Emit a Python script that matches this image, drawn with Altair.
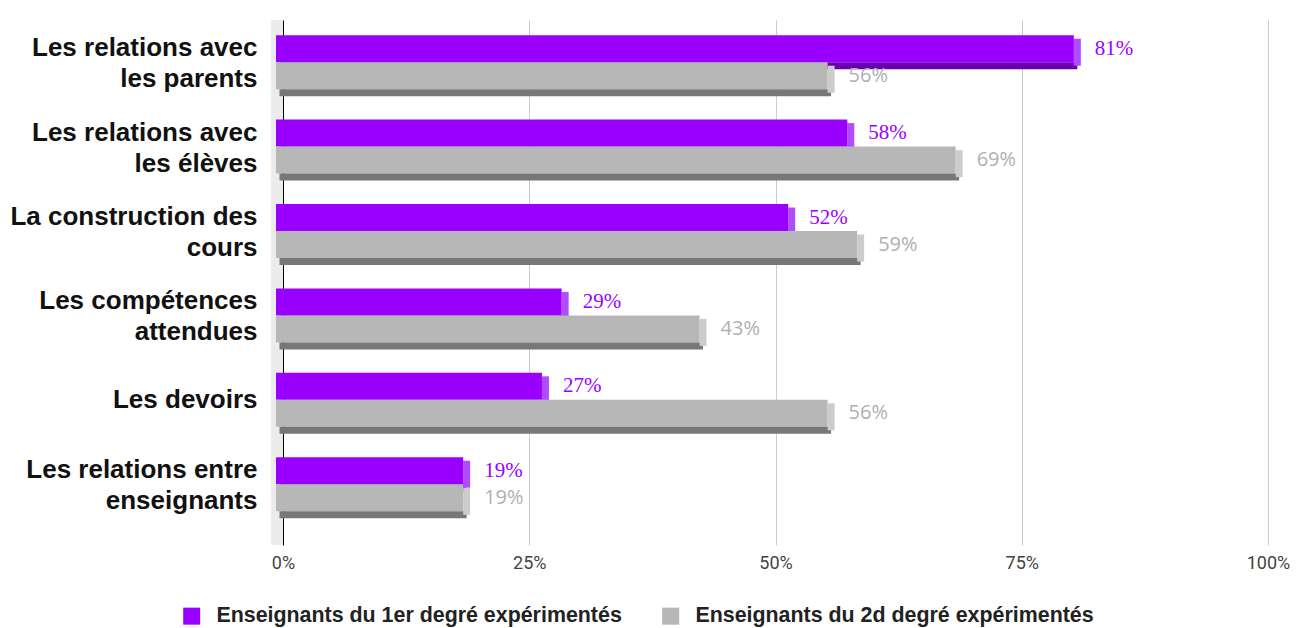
import altair as alt
import pandas as pd

categories = [
    "Les relations avec|les parents",
    "Les relations avec|les élèves",
    "La construction des|cours",
    "Les compétences|attendues",
    "Les devoirs",
    "Les relations entre|enseignants",
]
series = [
    "Enseignants du 1er degré expérimentés",
    "Enseignants du 2d degré expérimentés",
]
values_1er = [81, 58, 52, 29, 27, 19]
values_2d = [56, 69, 59, 43, 56, 19]
x_ticks = [0, 25, 50, 75, 100]

rows = []
for c, a, b in zip(categories, values_1er, values_2d):
    rows.append({"category": c, "series": series[0], "value": a})
    rows.append({"category": c, "series": series[1], "value": b})
df = pd.DataFrame(rows)

PURPLE = "#9900ff"
PURPLE_SIDE = "#b04cff"
PURPLE_DARK = "#6a00b0"
GRAY = "#b7b7b7"
GRAY_SIDE = "#cccccc"
GRAY_DARK = "#777777"

Y = alt.Y(
    "category:N",
    sort=categories,
    title=None,
    scale=alt.Scale(paddingInner=0, paddingOuter=0.11, align=0),
    axis=alt.Axis(
        labelExpr="split(datum.label, '|')",
        labelFont="Liberation Sans",
        labelFontWeight="bold",
        labelFontSize=26,
        labelLineHeight=31,
        labelColor="#111111",
        labelPadding=26,
        labelLimit=0,
        labelOffset={
            "condition": {"test": "indexof(datum.value, '|') >= 0", "value": -14},
            "value": 0,
        },
        ticks=False,
        domain=True,
        domainColor="#000000",
        domainWidth=1,
        grid=False,
        minExtent=275,
        maxExtent=275,
    ),
)
X = alt.X(
    "value:Q",
    title=None,
    scale=alt.Scale(domain=[0, 100]),
    axis=alt.Axis(
        values=x_ticks,
        labelExpr="datum.value + '%'",
        labelFont="Roboto",
        labelFontSize=18,
        labelColor="#444444",
        labelPadding=9,
        labelFlush=False,
        domain=False,
        ticks=False,
        grid=True,
        gridColor="#cccccc",
        gridWidth=1,
    ),
)

base = alt.Chart(df)
p = base.transform_filter(alt.datum.series == series[0])
g = base.transform_filter(alt.datum.series == series[1])

wall = base.mark_rect(color="#ececec", xOffset=-12, x2Offset=-0.5).encode(
    x=alt.datum(0), x2=alt.datum(0)
)

color_enc = alt.Color(
    "series:N",
    scale=alt.Scale(domain=series, range=[PURPLE, GRAY]),
    legend=alt.Legend(
        title=None,
        orient="none",
        direction="horizontal",
        legendX=-102,
        legendY=585,
        symbolType="square",
        symbolSize=289,
        symbolStrokeWidth=0,
        symbolOpacity=1,
        labelFont="Liberation Sans",
        labelFontWeight="bold",
        labelFontSize=21.4,
        labelColor="#222222",
        labelOffset=14,
        columnPadding=38,
        labelLimit=0,
    ),
)

p_bottom = p.mark_bar(size=7, yOffset=3.5, xOffset=-3.5, x2Offset=-3.5, color=PURPLE_DARK).encode(
    y=Y, x=X, x2=alt.datum(0)
)
p_side = p.mark_bar(size=27, yOffset=-10, xOffset=-7, x2Offset=0, color=PURPLE_SIDE).encode(
    y=Y, x=X, x2="value:Q"
)
p_front = p.mark_bar(size=27, yOffset=-13.5, xOffset=-7, x2Offset=-7).encode(
    y=Y, x=X, x2=alt.datum(0), color=color_enc
)
g_front = g.mark_bar(size=27, yOffset=13.5, xOffset=-7, x2Offset=-7).encode(
    y=Y, x=X, x2=alt.datum(0), color=color_enc
)
g_bottom = g.mark_bar(size=7, yOffset=30.5, xOffset=-3.5, x2Offset=-3.5, color=GRAY_DARK).encode(
    y=Y, x=X, x2=alt.datum(0)
)
g_side = g.mark_bar(size=27, yOffset=17, xOffset=-7, x2Offset=0, color=GRAY_SIDE).encode(
    y=Y, x=X, x2="value:Q"
)

p_text = p.transform_calculate(lbl="datum.value + '%'").mark_text(
    align="left", baseline="middle", dx=14, dy=-13.5,
    font="Liberation Serif", fontSize=21, color=PURPLE,
).encode(y=Y, x=X, text="lbl:N")
g_text = g.transform_calculate(lbl="datum.value + '%'").mark_text(
    align="left", baseline="middle", dx=14, dy=13.5,
    font="Open Sans", fontSize=20, color="#b0b0b0",
).encode(y=Y, x=X, text="lbl:N")

chart = alt.layer(
    wall, p_bottom, p_side, p_front, g_front, g_bottom, g_side, p_text, g_text
).properties(
    width=985,
    height=525,
    padding={"left": 0, "top": 12, "right": 5, "bottom": 5},
).configure_view(stroke=None)

chart.save("out.html", embed_options={"renderer": "svg", "actions": False})
